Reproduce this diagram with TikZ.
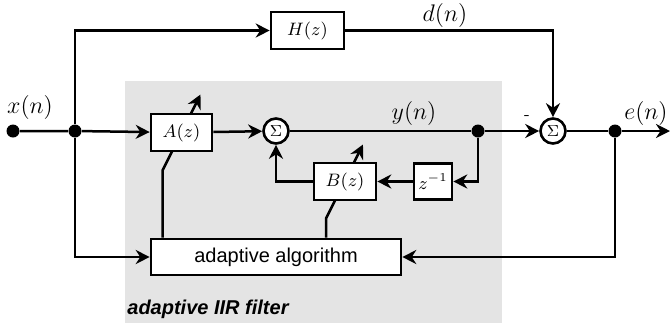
\documentclass[tikz,border=0pt]{standalone}
\usepackage{fontspec}
\setsansfont{Liberation Sans}
\usepackage{tikz}
\usetikzlibrary{arrows.meta,calc,positioning}
\definecolor{filtergray}{HTML}{E4E4E4}
\pgfdeclarelayer{shade}
\pgfdeclarelayer{wires}
\pgfsetlayers{shade,wires,main}

\begin{document}
\begin{tikzpicture}[
  x=0.5pt, y=-0.5pt,
  >={Stealth[length=7pt,width=7pt]},
  block/.style={draw, line width=1.3pt, fill=white, inner sep=0pt, minimum height=18.5pt, font=\fontsize{9}{10}\selectfont},
  sumnode/.style={draw, line width=1.3pt, circle, fill=white, minimum size=12.5pt, inner sep=0pt, font=\fontsize{8}{9}\selectfont},
  dot/.style={circle, fill=black, minimum size=6.5pt, inner sep=0pt},
  sig/.style={font=\fontsize{11.5}{13}\selectfont},
  flow/.style={->, line width=1.25pt},
  adjust/.style={->, line width=1.25pt},
  algo/.style={block, minimum width=125pt, minimum height=18pt, font=\fontsize{10}{12}\selectfont\sffamily}
]
  \useasboundingbox (0,0) rectangle (671,323);

  \node[dot] (xin) at (13,131) {};
  \node[dot] (jx) at (75,131) {};
  \node[block, minimum width=36.5pt] (H) at (307.5,30.5) {$H(z)$};
  \node[block, minimum width=30.5pt] (A) at (181.5,132.5) {$A(z)$};
  \node[sumnode] (sum1) at (276,131) {$\Sigma$};
  \node[dot] (yd) at (478,131) {};
  \node[sumnode] (sum2) at (553,131) {$\Sigma$};
  \node[dot] (ed) at (615,131) {};
  \coordinate (eout) at (670,131);
  \node[block, minimum width=31pt] (B) at (345,181.5) {$B(z)$};
  \node[block, minimum width=19pt, minimum height=18pt] (zinv) at (433,181.5) {$z^{-1}$};
  \node[algo] (alg) at (276,257) {adaptive algorithm};

  \node[sig] (xlab) at (30,107) {$x(n)$};
  \node[sig] (dlab) at (445,15) {$d(n)$};
  \node[sig] (ylab) at (414,113) {$y(n)$};
  \node[sig] (elab) at (646,113) {$e(n)$};
  \node[font=\footnotesize, inner sep=0pt] (minus) at (527,118) {-};
  \node[anchor=west, inner sep=0pt, font=\fontsize{10}{12}\selectfont\sffamily\bfseries\itshape] (title) at (127,309) {adaptive IIR filter};

  \begin{pgfonlayer}{shade}
    \fill[filtergray] (125,81) rectangle (502,323);
  \end{pgfonlayer}

  \begin{pgfonlayer}{wires}
    \coordinate (Alo) at ($(A)+(-19,38)$);
    \coordinate (Blo) at ($(B)+(-19,37)$);
    \draw[adjust] (alg.north -| Alo) -- (Alo) -- ($(A)+(19,-38)$);
    \draw[adjust] (alg.north -| Blo) -- (Blo) -- ($(B)+(18,-37)$);
  \end{pgfonlayer}

  \draw[flow] (xin) -- (jx) -- (A);
  \draw[flow] (jx) |- (H);
  \draw[flow] (H) -| (sum2);
  \draw[flow] (A) -- (sum1);
  \draw[flow] (sum1) -- (yd) -- (sum2);
  \draw[flow] (sum2) -- (ed) -- (eout);
  \draw[flow] (yd) |- (zinv);
  \draw[flow] (zinv) -- (B);
  \draw[flow] (B) -| (sum1);
  \draw[flow] (jx) |- (alg);
  \draw[flow] (ed) |- (alg);
\end{tikzpicture}
\end{document}
